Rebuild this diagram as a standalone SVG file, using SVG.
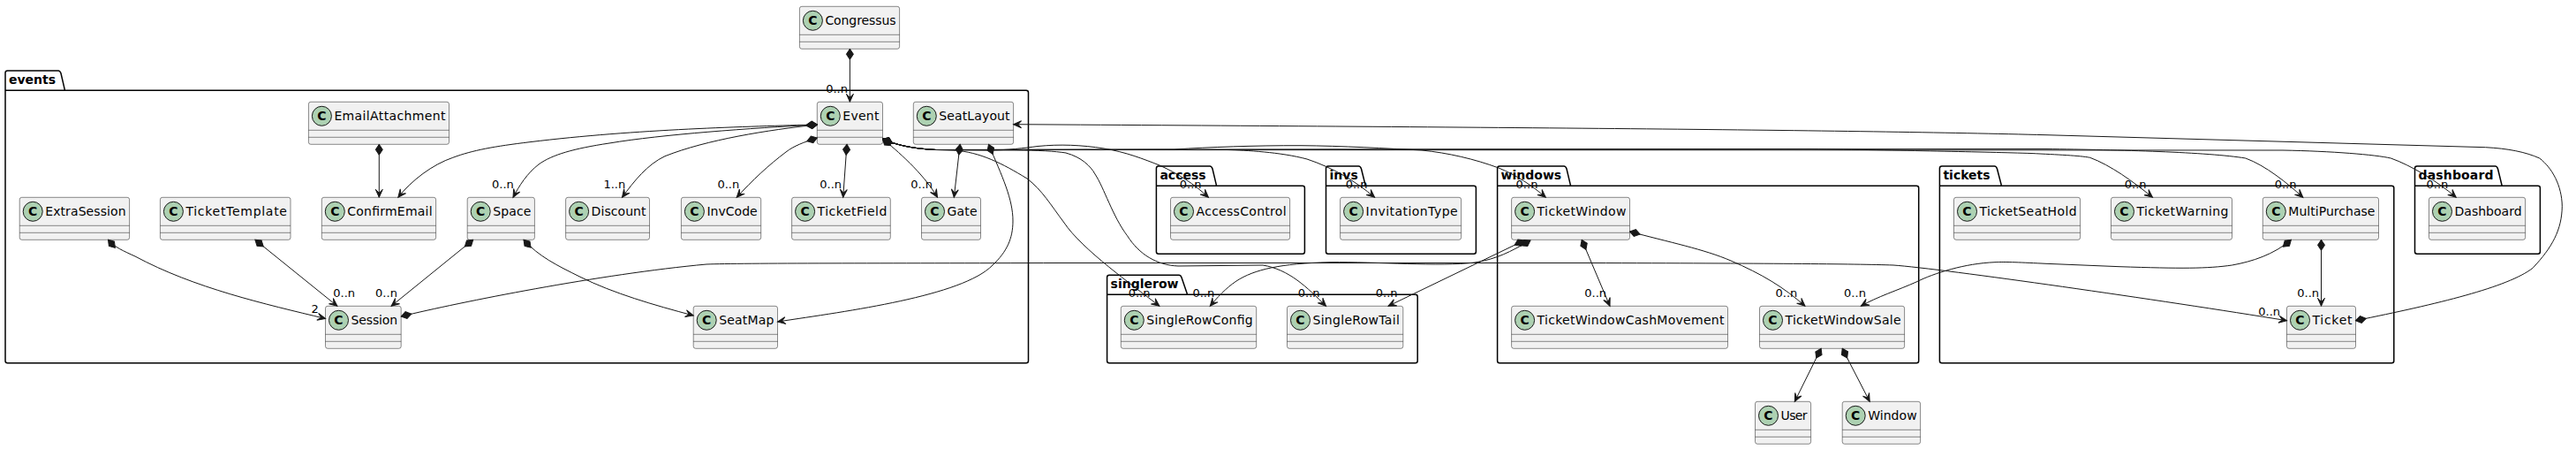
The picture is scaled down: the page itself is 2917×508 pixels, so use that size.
<svg xmlns="http://www.w3.org/2000/svg" width="2917" height="508" viewBox="0 0 2917 508">
<style>
text{font-family:"DejaVu Sans",sans-serif}
.p{fill:none;stroke:#000;stroke-width:1.5}
.pt{font-size:14px;font-weight:bold;fill:#000}
.b{fill:#F1F1F1;stroke:#181818;stroke-width:.5}
.s{fill:none;stroke:#181818;stroke-width:.5}
.c{fill:#ADD1B2;stroke:#181818;stroke-width:1}
.g{font-size:14px;font-weight:bold;fill:#000;text-anchor:middle}
.n{font-size:14px;fill:#000}
.e{fill:none;stroke:#181818;stroke-width:1;marker-start:url(#comp);marker-end:url(#vee)}
.l{font-size:13px;fill:#000}
</style>
<defs>
<marker id="vee" markerUnits="userSpaceOnUse" markerWidth="12" markerHeight="12" viewBox="-10 -6 12 12" refX="0" refY="0" orient="auto"><path d="M0,0L-9,-4L-5,0L-9,4Z" fill="#181818" stroke="#181818"/></marker>
<marker id="comp" markerUnits="userSpaceOnUse" markerWidth="16" markerHeight="12" viewBox="-1 -6 16 12" refX="0" refY="0" orient="auto"><path d="M0,0L6,-4L12,0L6,4Z" fill="#181818" stroke="#181818"/></marker>
</defs>
<g id="packages">
<g id="pkg-events"><path class="p" d="M6,82.5Q6,80 8.5,80H66Q68,80 69,83L73.5,102.3H1162Q1164.5,102.3 1164.5,104.8V408.2Q1164.5,410.7 1162,410.7H8.5Q6,410.7 6,408.2ZM6,102.3H73.5"/><text class="pt" x="10" y="95">events</text></g>
<g id="pkg-access"><path class="p" d="M1309.4,190.5Q1309.4,188 1311.9,188H1370Q1372,188 1373,191L1377.6,210.3H1475Q1477.4,210.3 1477.4,212.8V284.8Q1477.4,287.3 1475,287.3H1311.9Q1309.4,287.3 1309.4,284.8ZM1309.4,210.3H1377.6"/><text class="pt" x="1313.4" y="203">access</text></g>
<g id="pkg-invs"><path class="p" d="M1501.5,190.5Q1501.5,188 1504,188H1538.5Q1540.5,188 1541.5,191L1546.3,210.3H1669Q1671.4,210.3 1671.4,212.8V284.8Q1671.4,287.3 1669,287.3H1504Q1501.5,287.3 1501.5,284.8ZM1501.5,210.3H1546.3"/><text class="pt" x="1505.5" y="203">invs</text></g>
<g id="pkg-windows"><path class="p" d="M1695.6,190.5Q1695.6,188 1698.1,188H1771Q1773,188 1774,191L1778.6,210.3H2170.2Q2172.7,210.3 2172.7,212.8V408.2Q2172.7,410.7 2170.2,410.7H1698.1Q1695.6,410.7 1695.6,408.2ZM1695.6,210.3H1778.6"/><text class="pt" x="1699.6" y="203">windows</text></g>
<g id="pkg-singlerow"><path class="p" d="M1253.6,313.8Q1253.6,311.3 1256.1,311.3H1335Q1337,311.3 1338,314L1344.6,333.3H1602.7Q1605.2,333.3 1605.2,335.8V408.2Q1605.2,410.7 1602.7,410.7H1256.1Q1253.6,410.7 1253.6,408.2ZM1253.6,333.3H1344.6"/><text class="pt" x="1257.6" y="326">singlerow</text></g>
<g id="pkg-tickets"><path class="p" d="M2196.4,190.5Q2196.4,188 2198.9,188H2258.5Q2260.5,188 2261.5,191L2266.5,210.3H2708.3Q2710.8,210.3 2710.8,212.8V408.2Q2710.8,410.7 2708.3,410.7H2198.9Q2196.4,410.7 2196.4,408.2ZM2196.4,210.3H2266.5"/><text class="pt" x="2200.4" y="203">tickets</text></g>
<g id="pkg-dashboard"><path class="p" d="M2734.5,190.5Q2734.5,188 2737,188H2825.5Q2827.5,188 2828.5,191L2833.2,210.3H2874Q2876.4,210.3 2876.4,212.8V284.8Q2876.4,287.3 2874,287.3H2737Q2734.5,287.3 2734.5,284.8ZM2734.5,210.3H2833.2"/><text class="pt" x="2738.5" y="203" textLength="85">dashboard</text></g>
</g>
<g id="nodes">
<g id="Congressus" transform="translate(905.4,7.3)"><rect class="b" width="113.2" height="48" rx="2.5"/><path class="s" d="M0 32H113.2M0 40H113.2"/><circle class="c" cx="15" cy="16" r="11"/><text class="g" x="15" y="21">C</text><text class="n" x="29" y="21" textLength="80.2">Congressus</text></g>
<g id="Event" transform="translate(925.3,115.3)"><rect class="b" width="74.2" height="48" rx="2.5"/><path class="s" d="M0 32H74.2M0 40H74.2"/><circle class="c" cx="15" cy="16" r="11"/><text class="g" x="15" y="21">C</text><text class="n" x="29" y="21" textLength="41.2">Event</text></g>
<g id="SeatLayout" transform="translate(1034.3,115.3)"><rect class="b" width="113.3" height="48" rx="2.5"/><path class="s" d="M0 32H113.3M0 40H113.3"/><circle class="c" cx="15" cy="16" r="11"/><text class="g" x="15" y="21">C</text><text class="n" x="29" y="21" textLength="80.3">SeatLayout</text></g>
<g id="EmailAttachment" transform="translate(349.4,115.3)"><rect class="b" width="159.1" height="48" rx="2.5"/><path class="s" d="M0 32H159.1M0 40H159.1"/><circle class="c" cx="15" cy="16" r="11"/><text class="g" x="15" y="21">C</text><text class="n" x="29" y="21" textLength="126.1">EmailAttachment</text></g>
<g id="ExtraSession" transform="translate(22.2,223.3)"><rect class="b" width="124.4" height="48" rx="2.5"/><path class="s" d="M0 32H124.4M0 40H124.4"/><circle class="c" cx="15" cy="16" r="11"/><text class="g" x="15" y="21">C</text><text class="n" x="29" y="21" textLength="91.4">ExtraSession</text></g>
<g id="TicketTemplate" transform="translate(181.4,223.3)"><rect class="b" width="147.6" height="48" rx="2.5"/><path class="s" d="M0 32H147.6M0 40H147.6"/><circle class="c" cx="15" cy="16" r="11"/><text class="g" x="15" y="21">C</text><text class="n" x="29" y="21" textLength="114.6">TicketTemplate</text></g>
<g id="ConfirmEmail" transform="translate(364.3,223.3)"><rect class="b" width="129.3" height="48" rx="2.5"/><path class="s" d="M0 32H129.3M0 40H129.3"/><circle class="c" cx="15" cy="16" r="11"/><text class="g" x="15" y="21">C</text><text class="n" x="29" y="21" textLength="96.3">ConfirmEmail</text></g>
<g id="Space" transform="translate(529.2,223.3)"><rect class="b" width="76.2" height="48" rx="2.5"/><path class="s" d="M0 32H76.2M0 40H76.2"/><circle class="c" cx="15" cy="16" r="11"/><text class="g" x="15" y="21">C</text><text class="n" x="29" y="21" textLength="43.2">Space</text></g>
<g id="Discount" transform="translate(640.6,223.3)"><rect class="b" width="94.9" height="48" rx="2.5"/><path class="s" d="M0 32H94.9M0 40H94.9"/><circle class="c" cx="15" cy="16" r="11"/><text class="g" x="15" y="21">C</text><text class="n" x="29" y="21" textLength="61.9">Discount</text></g>
<g id="InvCode" transform="translate(771.4,223.3)"><rect class="b" width="90.3" height="48" rx="2.5"/><path class="s" d="M0 32H90.3M0 40H90.3"/><circle class="c" cx="15" cy="16" r="11"/><text class="g" x="15" y="21">C</text><text class="n" x="29" y="21" textLength="57.3">InvCode</text></g>
<g id="TicketField" transform="translate(896.6,223.3)"><rect class="b" width="111.7" height="48" rx="2.5"/><path class="s" d="M0 32H111.7M0 40H111.7"/><circle class="c" cx="15" cy="16" r="11"/><text class="g" x="15" y="21">C</text><text class="n" x="29" y="21" textLength="78.7">TicketField</text></g>
<g id="Gate" transform="translate(1043.5,223.3)"><rect class="b" width="67" height="48" rx="2.5"/><path class="s" d="M0 32H67M0 40H67"/><circle class="c" cx="15" cy="16" r="11"/><text class="g" x="15" y="21">C</text><text class="n" x="29" y="21" textLength="34">Gate</text></g>
<g id="Session" transform="translate(368.5,346.3)"><rect class="b" width="85.7" height="48" rx="2.5"/><path class="s" d="M0 32H85.7M0 40H85.7"/><circle class="c" cx="15" cy="16" r="11"/><text class="g" x="15" y="21">C</text><text class="n" x="29" y="21" textLength="52.7">Session</text></g>
<g id="SeatMap" transform="translate(785.2,346.3)"><rect class="b" width="95.3" height="48" rx="2.5"/><path class="s" d="M0 32H95.3M0 40H95.3"/><circle class="c" cx="15" cy="16" r="11"/><text class="g" x="15" y="21">C</text><text class="n" x="29" y="21" textLength="62.3">SeatMap</text></g>
<g id="AccessControl" transform="translate(1325.5,223.3)"><rect class="b" width="135.1" height="48" rx="2.5"/><path class="s" d="M0 32H135.1M0 40H135.1"/><circle class="c" cx="15" cy="16" r="11"/><text class="g" x="15" y="21">C</text><text class="n" x="29" y="21" textLength="102.1">AccessControl</text></g>
<g id="InvitationType" transform="translate(1517.6,223.3)"><rect class="b" width="137" height="48" rx="2.5"/><path class="s" d="M0 32H137M0 40H137"/><circle class="c" cx="15" cy="16" r="11"/><text class="g" x="15" y="21">C</text><text class="n" x="29" y="21" textLength="104">InvitationType</text></g>
<g id="TicketWindow" transform="translate(1711.6,223.3)"><rect class="b" width="133.9" height="48" rx="2.5"/><path class="s" d="M0 32H133.9M0 40H133.9"/><circle class="c" cx="15" cy="16" r="11"/><text class="g" x="15" y="21">C</text><text class="n" x="29" y="21" textLength="100.9">TicketWindow</text></g>
<g id="SingleRowConfig" transform="translate(1269.3,346.3)"><rect class="b" width="153.4" height="48" rx="2.5"/><path class="s" d="M0 32H153.4M0 40H153.4"/><circle class="c" cx="15" cy="16" r="11"/><text class="g" x="15" y="21">C</text><text class="n" x="29" y="21" textLength="120.4">SingleRowConfig</text></g>
<g id="SingleRowTail" transform="translate(1457.5,346.3)"><rect class="b" width="131.3" height="48" rx="2.5"/><path class="s" d="M0 32H131.3M0 40H131.3"/><circle class="c" cx="15" cy="16" r="11"/><text class="g" x="15" y="21">C</text><text class="n" x="29" y="21" textLength="98.3">SingleRowTail</text></g>
<g id="TicketWindowCashMovement" transform="translate(1711.6,346.3)"><rect class="b" width="244.9" height="48" rx="2.5"/><path class="s" d="M0 32H244.9M0 40H244.9"/><circle class="c" cx="15" cy="16" r="11"/><text class="g" x="15" y="21">C</text><text class="n" x="29" y="21" textLength="211.9">TicketWindowCashMovement</text></g>
<g id="TicketWindowSale" transform="translate(1992.5,346.3)"><rect class="b" width="164.1" height="48" rx="2.5"/><path class="s" d="M0 32H164.1M0 40H164.1"/><circle class="c" cx="15" cy="16" r="11"/><text class="g" x="15" y="21">C</text><text class="n" x="29" y="21" textLength="131.1">TicketWindowSale</text></g>
<g id="User" transform="translate(1987.5,454.3)"><rect class="b" width="63.1" height="48" rx="2.5"/><path class="s" d="M0 32H63.1M0 40H63.1"/><circle class="c" cx="15" cy="16" r="11"/><text class="g" x="15" y="21">C</text><text class="n" x="29" y="21" textLength="30.1">User</text></g>
<g id="Window" transform="translate(2086.2,454.3)"><rect class="b" width="88.4" height="48" rx="2.5"/><path class="s" d="M0 32H88.4M0 40H88.4"/><circle class="c" cx="15" cy="16" r="11"/><text class="g" x="15" y="21">C</text><text class="n" x="29" y="21" textLength="55.4">Window</text></g>
<g id="TicketSeatHold" transform="translate(2212.5,223.3)"><rect class="b" width="143.1" height="48" rx="2.5"/><path class="s" d="M0 32H143.1M0 40H143.1"/><circle class="c" cx="15" cy="16" r="11"/><text class="g" x="15" y="21">C</text><text class="n" x="29" y="21" textLength="110.1">TicketSeatHold</text></g>
<g id="TicketWarning" transform="translate(2390.5,223.3)"><rect class="b" width="137" height="48" rx="2.5"/><path class="s" d="M0 32H137M0 40H137"/><circle class="c" cx="15" cy="16" r="11"/><text class="g" x="15" y="21">C</text><text class="n" x="29" y="21" textLength="104">TicketWarning</text></g>
<g id="MultiPurchase" transform="translate(2562.3,223.3)"><rect class="b" width="131.2" height="48" rx="2.5"/><path class="s" d="M0 32H131.2M0 40H131.2"/><circle class="c" cx="15" cy="16" r="11"/><text class="g" x="15" y="21">C</text><text class="n" x="29" y="21" textLength="98.2">MultiPurchase</text></g>
<g id="Ticket" transform="translate(2589.5,346.3)"><rect class="b" width="78" height="48" rx="2.5"/><path class="s" d="M0 32H78M0 40H78"/><circle class="c" cx="15" cy="16" r="11"/><text class="g" x="15" y="21">C</text><text class="n" x="29" y="21" textLength="45">Ticket</text></g>
<g id="Dashboard" transform="translate(2750.5,223.3)"><rect class="b" width="109.1" height="48" rx="2.5"/><path class="s" d="M0 32H109.1M0 40H109.1"/><circle class="c" cx="15" cy="16" r="11"/><text class="g" x="15" y="21">C</text><text class="n" x="29" y="21" textLength="76.1">Dashboard</text></g>
</g>
<g id="connectors">
<path class="e" d="M962.4,55.3L962.4,115.3"/>
<path class="e" d="M429.3,163.3L429.3,223.3"/>
<path class="e" d="M925.3,141C850,143 720,146 600,160.7C560,165.5 535,170 512.8,178.3C490,186 466,204 450.8,223.3"/>
<path class="e" d="M925.3,141C850,145 750,152 690,162C650,168 625,175 610,186C597,196 588,210 581,223.3"/>
<path class="e" d="M925.3,141C870,147 800,158 753,176.7C733,186 718,205 704.5,223.3"/>
<path class="e" d="M925.3,156C910,161 899,165 890,172C870,187 852,204 834.2,223.3"/>
<path class="e" d="M959,163.3L954.7,223.3"/>
<path class="e" d="M999.5,157C1015,170 1045,195 1061.5,223.3"/>
<path class="e" d="M1087.1,163.3L1080.3,223.3"/>
<path class="e" d="M1119.5,163.3C1135,200 1147,225 1147,250C1147,270 1140,285 1124,300C1090,335 960,352 880.5,364"/>
<path class="e" d="M535.7,271.3L443.1,346.3"/>
<path class="e" d="M593,271.3C610,290 630,300 657,313.3C695,332 740,345 785.2,357"/>
<path class="e" d="M122.5,271.3C130,280 140,284 153,290C220,326 300,344 368.5,360.5"/>
<path class="e" d="M288.9,271.3L381.9,346.3"/>
<path class="e" d="M454.2,358C520,342 680,310 800,299C840,297.5 1000,298 1200,297.5L1800,297.5C2000,298 2100,298.5 2144,300C2200,304 2450,340 2589.5,362.7"/>
<path class="e" d="M1733,272C1710,285 1695,293 1670,297C1630,302 1560,296 1506,296.7C1450,298 1420,305 1400,318C1388,326 1378,337 1370.3,346.3"/>
<path class="e" d="M1726,272L1572,346.3"/>
<path class="e" d="M1791.2,271.3L1823,346.3"/>
<path class="e" d="M1845.5,262C1890,274 1930,282 1960,295C1995,310 2020,325 2044,346.3"/>
<path class="e" d="M2594.4,271.3C2575,288 2550,296 2527.5,300C2500,304 2470,304 2400,301.7L2317,298.3C2290,297 2270,296 2259,296.7C2225,298 2190,309 2170,319C2150,328 2125,336 2107.3,346.3"/>
<path class="e" d="M2628.5,271.3L2628.5,346.3"/>
<path class="e" d="M2062.1,394.3L2032.3,454.3"/>
<path class="e" d="M2086.2,394.3L2117.2,454.3"/>
<path class="e" d="M2667.5,362.7C2760,344 2840,325 2868,303.3C2890,280 2901,260 2901.3,233.3C2901,210 2890,190 2875.7,179C2860,172 2840,168 2814.5,166.7L2317,152.7C2100,147 1700,144 1200,141L1147.6,140.7"/>
<path class="e" d="M999.5,157C1012,163 1030,168 1060,169.5L1120,170C1140,170 1160,167.5 1175,165.5C1200,163 1225,164 1250,168C1275,172 1295,180 1313,187C1335,197 1352,208 1368.4,223.3"/>
<path class="e" d="M999.5,157C1012,163 1030,168 1060,169.5L1390,169.5C1410,170 1450,172 1480,180C1510,190 1535,205 1556.6,223.3"/>
<path class="e" d="M999.5,157C1012,163 1030,168 1060,169.5L1330,169C1370,166.5 1420,164.5 1473,164.7C1520,165 1570,168 1610,170C1640,173 1670,180 1697,190C1717,198 1735,210 1750.3,223.3"/>
<path class="e" d="M999.5,157C1012,163 1030,168 1060,169.5L2050,168.5C2150,170 2250,172 2300,173.5C2330,175 2355,176 2366.7,178.3C2390,187 2415,205 2437.5,223.3"/>
<path class="e" d="M999.5,157C1012,163 1030,168 1060,169.5L2317,168.5C2400,169.5 2500,172 2542.8,179C2565,187 2590,207 2607.8,223.3"/>
<path class="e" d="M999.5,157C1012,163 1030,168 1060,169.5L2585,170C2640,171 2690,175 2707.3,179C2730,187 2760,205 2781.2,223.3"/>
<path class="e" d="M999.5,157C1012,163 1030,168 1060,169.5L1080,170C1110,172 1135,185 1163,202C1180,215 1190,232 1205,252C1225,282 1283,323 1312.9,346.3"/>
<path class="e" d="M999.5,157C1012,163 1030,168 1060,169.5L1150,170C1175,170 1195,171 1207,173C1225,178 1235,188 1240,197C1250,212 1260,245 1276.5,266.7C1290,288 1310,300 1334,301L1430,300C1460,305 1480,325 1501.5,346.3"/>
</g>
<g id="labels">
<text class="l" x="935.2" y="104.5">0..n</text>
<text class="l" x="557" y="212.5">0..n</text>
<text class="l" x="683.4" y="212.5">1..n</text>
<text class="l" x="812.4" y="212.5">0..n</text>
<text class="l" x="928.3" y="212.5">0..n</text>
<text class="l" x="1031.3" y="212.5">0..n</text>
<text class="l" x="1335.8" y="212.5">0..n</text>
<text class="l" x="1523.7" y="212.5">0..n</text>
<text class="l" x="1716.6" y="212.5">0..n</text>
<text class="l" x="2405.8" y="212.5">0..n</text>
<text class="l" x="2575.7" y="212.5">0..n</text>
<text class="l" x="2747.5" y="212.5">0..n</text>
<text class="l" x="352.4" y="354.3">2</text>
<text class="l" x="377.3" y="335.5">0..n</text>
<text class="l" x="425.1" y="335.5">0..n</text>
<text class="l" x="1277.7" y="335.5">0..n</text>
<text class="l" x="1350.4" y="335.5">0..n</text>
<text class="l" x="1469.8" y="335.5">0..n</text>
<text class="l" x="1557.8" y="335.5">0..n</text>
<text class="l" x="1794.3" y="335.5">0..n</text>
<text class="l" x="2010.5" y="335.5">0..n</text>
<text class="l" x="2088.1" y="335.5">0..n</text>
<text class="l" x="2601.3" y="335.5">0..n</text>
<text class="l" x="2557.3" y="357.3">0..n</text>
</g>
</svg>
